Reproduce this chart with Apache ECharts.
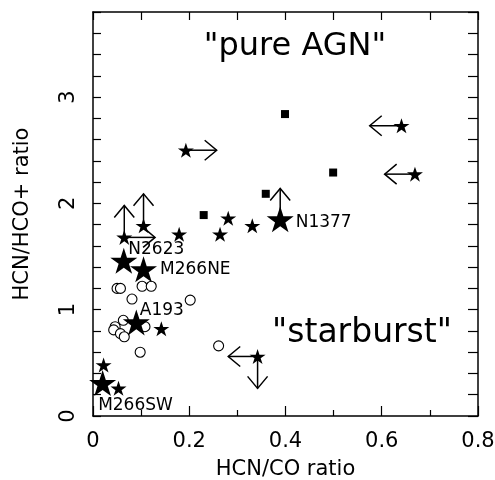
<!DOCTYPE html>
<html>
<head>
<meta charset="utf-8">
<script src="https://cdn.jsdelivr.net/npm/echarts@6/dist/echarts.min.js"></script>
<style>html,body{margin:0;padding:0;background:#fff}#c{width:495px;height:480px}</style>
</head>
<body>
<div id="c"></div>
<script>
// ---- data ----
const smallStars = [[0.065,1.68],[0.105,1.79],[0.193,2.50],[0.641,2.73],[0.669,2.275],[0.179,1.71],[0.264,1.71],[0.281,1.86],[0.331,1.79],[0.142,0.82],[0.022,0.48],[0.053,0.26],[0.342,0.56]];
const bigStarNames = ['N1377','N2623','M266NE','A193','M266SW'];
const bigStarValues = [[0.389,1.85],[0.064,1.46],[0.105,1.38],[0.090,0.88],[0.020,0.31]];
const squares = [[0.399,2.84],[0.499,2.29],[0.359,2.09],[0.230,1.89]];
const circles = [[0.050,1.20],[0.057,1.20],[0.102,1.22],[0.121,1.22],[0.081,1.10],[0.202,1.09],[0.063,0.90],[0.046,0.84],[0.043,0.81],[0.057,0.775],[0.065,0.745],[0.108,0.84],[0.098,0.60],[0.261,0.66]];
// limit arrows: [x from, y from, x to, y to]
const arrows = [[0.065,1.68,0.065,1.98],[0.065,1.68,0.129,1.68],[0.105,1.79,0.105,2.09],[0.193,2.50,0.257,2.50],[0.641,2.73,0.575,2.73],[0.669,2.275,0.606,2.275],[0.342,0.56,0.281,0.56],[0.342,0.56,0.342,0.26],[0.389,1.85,0.389,2.14]];
const xTickLabels = ['0','0.2','0.4','0.6','0.8'];
const yTickLabels = ['0','1','2','3'];

// ---- styling ----
const FONT = 'DejaVu Sans';
const STAR = 'path://M0,-10 L2.245,-3.09 L9.51,-3.09 L3.633,1.18 L5.878,8.09 L0,3.82 L-5.878,8.09 L-3.633,1.18 L-9.51,-3.09 L-2.245,-3.09 Z';
const labelOffsets = [[2,3],[-9,-11],[3,0],[-10,-12],[-18,23]];

const chart = echarts.init(document.getElementById('c'), null, {renderer:'canvas'});

function xFmt(v){ const i = Math.round(v/0.2); return (Math.abs(v - i*0.2) < 1e-6 && xTickLabels[i] !== undefined) ? xTickLabels[i] : ''; }
function yFmt(v){ const i = Math.round(v); return (Math.abs(v - i) < 1e-6 && yTickLabels[i] !== undefined) ? yTickLabels[i] : ''; }

const axisLine = {show:true, onZero:false, lineStyle:{color:'#000', width:1.5}};
const baseX = {type:'value', min:0, max:0.8, interval:0.2, splitLine:{show:false}, axisLine:axisLine};
const baseY = {type:'value', min:0, max:3.8, interval:0.2, splitLine:{show:false}, axisLine:axisLine};

chart.setOption({
  animation:false,
  backgroundColor:'#fff',
  grid:{left:93, right:17, top:12, bottom:64, containLabel:false, outerBoundsMode:'none'},
  xAxis:[
    Object.assign({}, baseX, {
      position:'bottom',
      name:'HCN/CO ratio', nameLocation:'middle', nameGap:43,
      nameTextStyle:{fontFamily:FONT, fontSize:21, color:'#000'},
      axisTick:{show:true, inside:true, length:10, lineStyle:{color:'#000', width:1.2}},
      minorTick:{show:true, splitNumber:2, length:6, lineStyle:{color:'#000', width:1.2}},
      axisLabel:{show:true, margin:15, fontFamily:FONT, fontSize:21, color:'#000', formatter:xFmt}
    }),
    Object.assign({}, baseX, {
      position:'top',
      axisTick:{show:true, inside:true, length:8, lineStyle:{color:'#000', width:1.2}},
      minorTick:{show:true, splitNumber:2, length:8, lineStyle:{color:'#000', width:1.2}},
      axisLabel:{show:false}
    })
  ],
  yAxis:[
    Object.assign({}, baseY, {
      position:'left',
      name:'HCN/HCO+ ratio', nameLocation:'middle', nameGap:60, nameRotate:90,
      nameTextStyle:{fontFamily:FONT, fontSize:21, color:'#000'},
      axisTick:{show:true, inside:true, length:8, lineStyle:{color:'#000', width:1.2}},
      axisLabel:{show:true, rotate:90, margin:14, fontFamily:FONT, fontSize:21, color:'#000', formatter:yFmt}
    }),
    Object.assign({}, baseY, {
      position:'right',
      axisTick:{show:true, inside:true, length:10, lineStyle:{color:'#000', width:1.2}},
      axisLabel:{show:false}
    })
  ],
  graphic:[
    {type:'text', style:{text:'"pure AGN"', x:295, y:47, align:'center', verticalAlign:'middle', fontFamily:FONT, fontSize:32, fill:'#000'}},
    {type:'text', style:{text:'"starburst"', x:362, y:333, align:'center', verticalAlign:'middle', fontFamily:FONT, fontSize:33, fill:'#000'}}
  ],
  series:[
    {
      type:'custom', xAxisIndex:0, yAxisIndex:0, silent:true,
      data: arrows,
      encode:{x:[0,2], y:[1,3]},
      renderItem:function(params, api){
        const p1 = api.coord([api.value(0), api.value(1)]);
        const p2 = api.coord([api.value(2), api.value(3)]);
        const dx = p2[0]-p1[0], dy = p2[1]-p1[1];
        const L = Math.sqrt(dx*dx+dy*dy) || 1;
        const ux = dx/L, uy = dy/L;
        const back = 12, side = 10;
        const a1 = [p2[0]-ux*back - uy*side, p2[1]-uy*back + ux*side];
        const a2 = [p2[0]-ux*back + uy*side, p2[1]-uy*back - ux*side];
        const st = {stroke:'#000', lineWidth:1.5, fill:null};
        return {type:'group', children:[
          {type:'line', shape:{x1:p1[0], y1:p1[1], x2:p2[0], y2:p2[1]}, style:st},
          {type:'polyline', shape:{points:[a1, p2, a2]}, style:st}
        ]};
      },
      z:2
    },
    {
      type:'scatter', data:circles, symbol:'circle', symbolSize:10,
      itemStyle:{color:'#fff', borderColor:'#000', borderWidth:1.1, opacity:1}, z:3
    },
    {
      type:'scatter', data:squares, symbol:'rect', symbolSize:8,
      itemStyle:{color:'#000', opacity:1}, z:3
    },
    {
      type:'scatter', data:smallStars, symbol:STAR, symbolSize:[16,15],
      itemStyle:{color:'#000', opacity:1}, z:4
    },
    {
      type:'scatter', symbol:STAR, symbolSize:[27,26], itemStyle:{color:'#000', opacity:1}, z:5,
      data: bigStarValues.map((v,i)=>({name:bigStarNames[i], value:v,
        label:{show:true, formatter:'{b}', position:'right', distance:0, offset:labelOffsets[i],
               fontFamily:FONT, fontSize:17, color:'#000'}}))
    }
  ]
});
</script>
</body>
</html>
